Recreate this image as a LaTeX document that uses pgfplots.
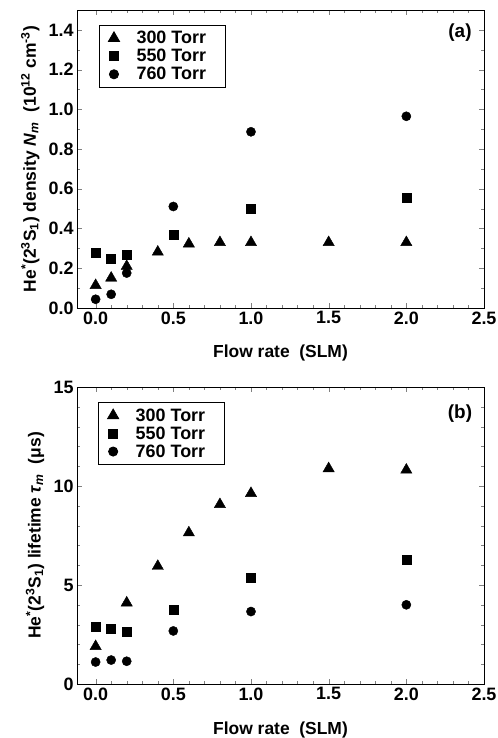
\documentclass[border=0pt]{standalone}
\usepackage{pgfplots}
\pgfplotsset{compat=1.18}
\usepackage{fontspec}
\setmainfont{Liberation Sans}
\begin{document}
\begin{tikzpicture}
\useasboundingbox (0bp,0bp) rectangle (498bp,-738bp);
\pgfplotsset{
  myax/.style={
    scale only axis, width=407bp, height=298bp,
    xmin=-0.12, xmax=2.5,
    xtick={0,0.5,...,2.5}, minor x tick num=4,
    tick align=inside, major tick length=5bp, minor tick length=3bp,
    font=\bfseries\fontsize{18}{21.5}\selectfont,
    tick label style={font=\bfseries\fontsize{18}{21.5}\selectfont},
    /pgf/number format/assume math mode=true,
    xticklabel style={/pgf/number format/.cd, fixed, fixed zerofill, precision=1},
    xlabel={Flow rate\ \ (SLM)},
    xlabel style={font=\bfseries\fontsize{17.5}{21}\selectfont},
    ylabel style={font=\bfseries\fontsize{17.5}{21}\selectfont},
    axis line style={line width=1pt},
    legend cell align=left,
    legend style={draw=black, line width=0.8pt, inner xsep=9pt, inner ysep=4pt,
      font=\bfseries\fontsize{18}{22}\selectfont, row sep=0pt},
    every axis plot/.append style={only marks, black},
  }
}
\begin{axis}[myax, at={(77bp,-308bp)}, anchor=south west,
  ymin=0, ymax=1.5, ytick={0,0.2,...,1.4}, minor y tick num=1,
  yticklabel style={/pgf/number format/.cd, fixed, fixed zerofill, precision=1},
  ylabel={He\textsuperscript{*}(2\textsuperscript{3}S\textsubscript{1}) density \textit{N}\textsubscript{\textit{m}}\ \ (10\textsuperscript{12} cm\textsuperscript{-3})},
  ylabel style={at={(axis description cs:-0.115,0.5)}, anchor=center},
  xlabel style={at={(axis description cs:0.5,-0.15)}, anchor=center},
  legend style={at={(rel axis cs:0.054,0.95)}, anchor=north west},
]
\addplot[mark=triangle*, mark size=6.5bp] coordinates {(0,0.114) (0.1,0.151) (0.2,0.21) (0.4,0.282) (0.6,0.323) (0.8,0.33) (1.0,0.33) (1.5,0.33) (2.0,0.33)};
\addlegendentry{\ \ \ 300 Torr\hspace*{8pt}}
\addplot[mark=square*, mark size=4.5bp] coordinates {(0,0.277) (0.1,0.247) (0.2,0.267) (0.5,0.368) (1.0,0.499) (2.0,0.556)};
\addlegendentry{\ \ \ 550 Torr\hspace*{8pt}}
\addplot[mark=*, mark size=4.6bp] coordinates {(0,0.044) (0.1,0.069) (0.2,0.176) (0.5,0.511) (1.0,0.887) (2.0,0.965)};
\addlegendentry{\ \ \ 760 Torr\hspace*{8pt}}
\node[font=\bfseries\fontsize{19}{22}\selectfont] at (rel axis cs:0.941,0.923) {(a)};
\end{axis}
\begin{axis}[myax, at={(77bp,-684bp)}, anchor=south west, height=297bp,
  ymin=0, ymax=15, ytick={0,5,10,15}, minor y tick num=4,
  ylabel={He\textsuperscript{*}(2\textsuperscript{3}S\textsubscript{1}) lifetime \textit{τ}\textsubscript{\textit{m}}\ \ (μs)},
  ylabel style={at={(axis description cs:-0.103,0.5)}, anchor=center},
  xlabel style={at={(axis description cs:0.5,-0.155)}, anchor=center},
  legend style={at={(rel axis cs:0.052,0.949)}, anchor=north west},
]
\addplot[mark=triangle*, mark size=6.5bp] coordinates {(0,1.9) (0.2,4.1) (0.4,5.95) (0.6,7.64) (0.8,9.07) (1.0,9.63) (1.5,10.88) (2.0,10.81)};
\addlegendentry{\ \ \ 300 Torr\hspace*{8pt}}
\addplot[mark=square*, mark size=4.5bp] coordinates {(0,2.88) (0.1,2.77) (0.2,2.63) (0.5,3.74) (1.0,5.38) (2.0,6.29)};
\addlegendentry{\ \ \ 550 Torr\hspace*{8pt}}
\addplot[mark=*, mark size=4.6bp] coordinates {(0,1.11) (0.1,1.21) (0.2,1.15) (0.5,2.68) (1.0,3.66) (2.0,4.0)};
\addlegendentry{\ \ \ 760 Torr\hspace*{8pt}}
\node[font=\bfseries\fontsize{19}{22}\selectfont] at (rel axis cs:0.941,0.912) {(b)};
\end{axis}
\end{tikzpicture}
\end{document}
